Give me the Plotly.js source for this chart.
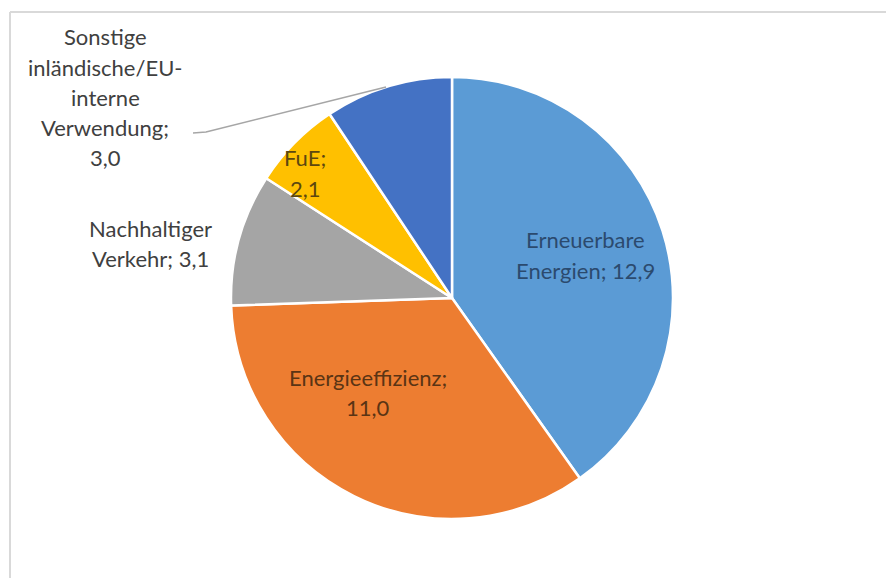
<!DOCTYPE html>
<html>
<head>
<meta charset="utf-8">
<script src="https://cdn.plot.ly/plotly-3.0.1.min.js"></script>
<style>html,body{margin:0;padding:0;background:#fff;}#chart{width:886px;height:578px;}</style>
</head>
<body>
<div id="chart"></div>
<script>
const categories = ["Erneuerbare Energien", "Energieeffizienz", "Nachhaltiger Verkehr", "FuE", "Sonstige inländische/EU-interne Verwendung"];
const labelLines = [["Erneuerbare", "Energien; "], ["Energieeffizienz;", ""], ["Nachhaltiger", "Verkehr; "], ["FuE;", ""], ["Sonstige", "inländische/EU-", "interne", "Verwendung;", ""]];
const values = [12.9, 11.0, 3.1, 2.1, 3.0];
const colors = ["#5B9BD5", "#ED7D31", "#A5A5A5", "#FFC000", "#4472C4"];
const textColors = ["#2b4a6e", "#5a3414", "#404040", "#5c4710", "#404040"];
const labelPos = [[585, 255], [368, 392], [150, 243], [305, 173], [105, 97]];

const W = 886, H = 578, LH = 30;
const px = x => x / W;
const py = y => 1 - y / H;
const fmt = v => v.toFixed(1).replace('.', ',');

const annotations = [];
categories.forEach((c, i) => {
  const lines = labelLines[i].slice();
  const last = lines.length - 1;
  lines[last] = lines[last] + fmt(values[i]);
  const n = lines.length;
  lines.forEach((t, j) => {
    annotations.push({
      text: t,
      x: px(labelPos[i][0]), y: py(labelPos[i][1] + (j - (n - 1) / 2) * LH),
      xref: 'paper', yref: 'paper', xanchor: 'center', yanchor: 'middle',
      showarrow: false, align: 'center',
      font: {family: 'Lato, sans-serif', size: 22, color: textColors[i]}
    });
  });
});

const data = [{
  type: 'pie',
  labels: categories,
  values: values,
  sort: false,
  direction: 'clockwise',
  rotation: 0,
  marker: {colors: colors, line: {color: '#ffffff', width: 2.5}},
  textinfo: 'none',
  hoverinfo: 'label+value',
  domain: {x: [px(231), px(673)], y: [py(519), py(77)]},
  showlegend: false
}];

const layout = {
  width: W, height: H,
  margin: {l: 0, r: 0, t: 0, b: 0},
  paper_bgcolor: '#ffffff',
  plot_bgcolor: '#ffffff',
  showlegend: false,
  annotations: annotations,
  shapes: [
    {type: 'line', xref: 'paper', yref: 'paper', x0: px(10), x1: 1.01, y0: py(12), y1: py(12), line: {color: '#d9d9d9', width: 2}},
    {type: 'line', xref: 'paper', yref: 'paper', x0: px(10), x1: px(10), y0: py(12), y1: -0.01, line: {color: '#d9d9d9', width: 2}},
    {type: 'path', xref: 'paper', yref: 'paper',
     path: `M ${px(193)} ${py(133)} L ${px(206)} ${py(132)} L ${px(386)} ${py(87)}`,
     line: {color: '#a6a6a6', width: 1.5}}
  ]
};

Plotly.newPlot('chart', data, layout, {displayModeBar: false, staticPlot: true});
</script>
</body>
</html>
